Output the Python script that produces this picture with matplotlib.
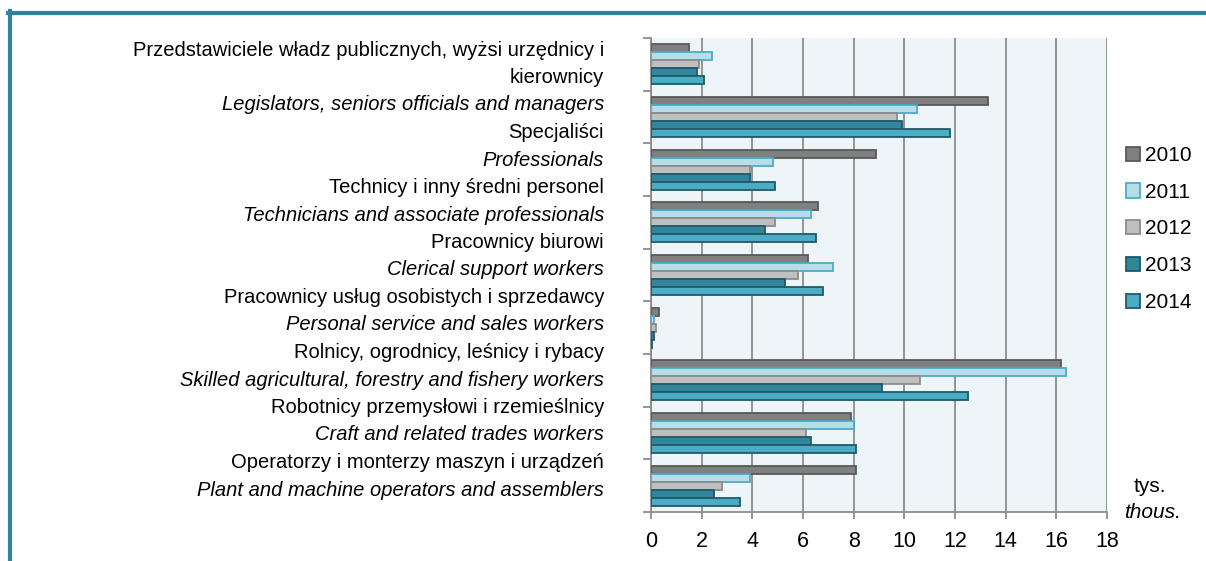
import matplotlib
matplotlib.use('Agg')
import matplotlib.pyplot as plt
from matplotlib.lines import Line2D
import numpy as np

plt.rcParams['font.family'] = ['Liberation Sans', 'DejaVu Sans']

# etykiety kategorii (pl, en)
labels_pl = [
    'Przedstawiciele władz publicznych, wyżsi urzędnicy i\nkierownicy',
    'Specjaliści',
    'Technicy i inny średni personel',
    'Pracownicy biurowi',
    'Pracownicy usług osobistych i sprzedawcy',
    'Rolnicy, ogrodnicy, leśnicy i rybacy',
    'Robotnicy przemysłowi i rzemieślnicy',
    'Operatorzy i monterzy maszyn i urządzeń',
]
labels_en = [
    'Legislators, seniors officials and managers',
    'Professionals',
    'Technicians and associate professionals',
    'Clerical support workers',
    'Personal service and sales workers',
    'Skilled agricultural, forestry and fishery workers',
    'Craft and related trades workers',
    'Plant and machine operators and assemblers',
]

years = ['2010', '2011', '2012', '2013', '2014']
v2010 = [1.5, 13.3, 8.9, 6.6, 6.2, 0.3, 16.2, 7.9, 8.1]
v2011 = [2.4, 10.5, 4.8, 6.3, 7.2, 0.1, 16.4, 8.0, 3.9]
v2012 = [1.9, 9.7, 3.9, 4.9, 5.8, 0.2, 10.6, 6.1, 2.8]
v2013 = [1.8, 9.9, 3.9, 4.5, 5.3, 0.1, 9.1, 6.3, 2.5]
v2014 = [2.1, 11.8, 4.9, 6.5, 6.8, 0.05, 12.5, 8.1, 3.5]
series = [v2010, v2011, v2012, v2013, v2014]

fills = ['#808080', '#B7DEE8', '#BFBFBF', '#31859C', '#4BACC6']
edges = ['#595959', '#4BACC6', '#8C8C8C', '#215968', '#215968']

W, H = 1206, 561
fig = plt.figure(figsize=(W / 100, H / 100), dpi=100)
ax = fig.add_axes([651 / W, 1 - 512 / H, (1107 - 651) / W, (512 - 38) / H])
ax.set_facecolor('#EDF5F9')

n = len(v2010)
pos = np.arange(n)
bh = 0.152
for j, vals in enumerate(series):
    y = pos - 2.5 * bh + bh * (j + 0.5)
    ax.barh(y, vals, height=bh, color=fills[j], edgecolor=edges[j],
            linewidth=1.3, label=years[j], zorder=3)

ax.set_xlim(0, 18)
ax.set_ylim(n - 0.5, -0.5)
ax.set_xticks(np.arange(0, 19, 2))
ax.set_yticks(np.arange(n + 1) - 0.5)
ax.set_yticklabels([])
ax.grid(axis='x', color='#8C8C8C', linewidth=1.3, zorder=1)
for s in ['top', 'right']:
    ax.spines[s].set_visible(False)
for s in ['left', 'bottom']:
    ax.spines[s].set_color('#8C8C8C')
    ax.spines[s].set_linewidth(1.3)
ax.tick_params(axis='y', length=6, width=1.3, color='#8C8C8C')
ax.tick_params(axis='x', length=5, width=1.3, color='#8C8C8C', labelsize=15.5, pad=9)

# kolumna etykiet
lines = []
for pl, en in zip(labels_pl, labels_en):
    for part in pl.split('\n'):
        lines.append((part, 'normal'))
    lines.append((en, 'italic'))
for k, (txt, st) in enumerate(lines):
    fig.text(604 / W, 1 - (50 + 27.5 * k) / H, txt, ha='right', va='center',
             fontsize=14.5, style=st)

leg = fig.legend(loc='center left', bbox_to_anchor=(1126 / W, 1 - 229 / H),
                 frameon=False, fontsize=15, borderpad=0, borderaxespad=0,
                 handlelength=0.67, handleheight=0.67, handletextpad=0.25,
                 labelspacing=0.85)

fig.text(1150 / W, 1 - 486 / H, 'tys.', ha='center', va='center', fontsize=15)
fig.text(1152 / W, 1 - 512 / H, 'thous.', ha='center', va='center',
         fontsize=15, style='italic')

# ramka
fig.add_artist(Line2D([8 / W, 1], [1 - 13 / H, 1 - 13 / H], color='#31849B',
                      linewidth=3, transform=fig.transFigure))
fig.add_artist(Line2D([10 / W, 10 / W], [0, 1 - 11 / H], color='#31849B',
                      linewidth=3, transform=fig.transFigure))

fig.savefig('out.png', dpi=100)
